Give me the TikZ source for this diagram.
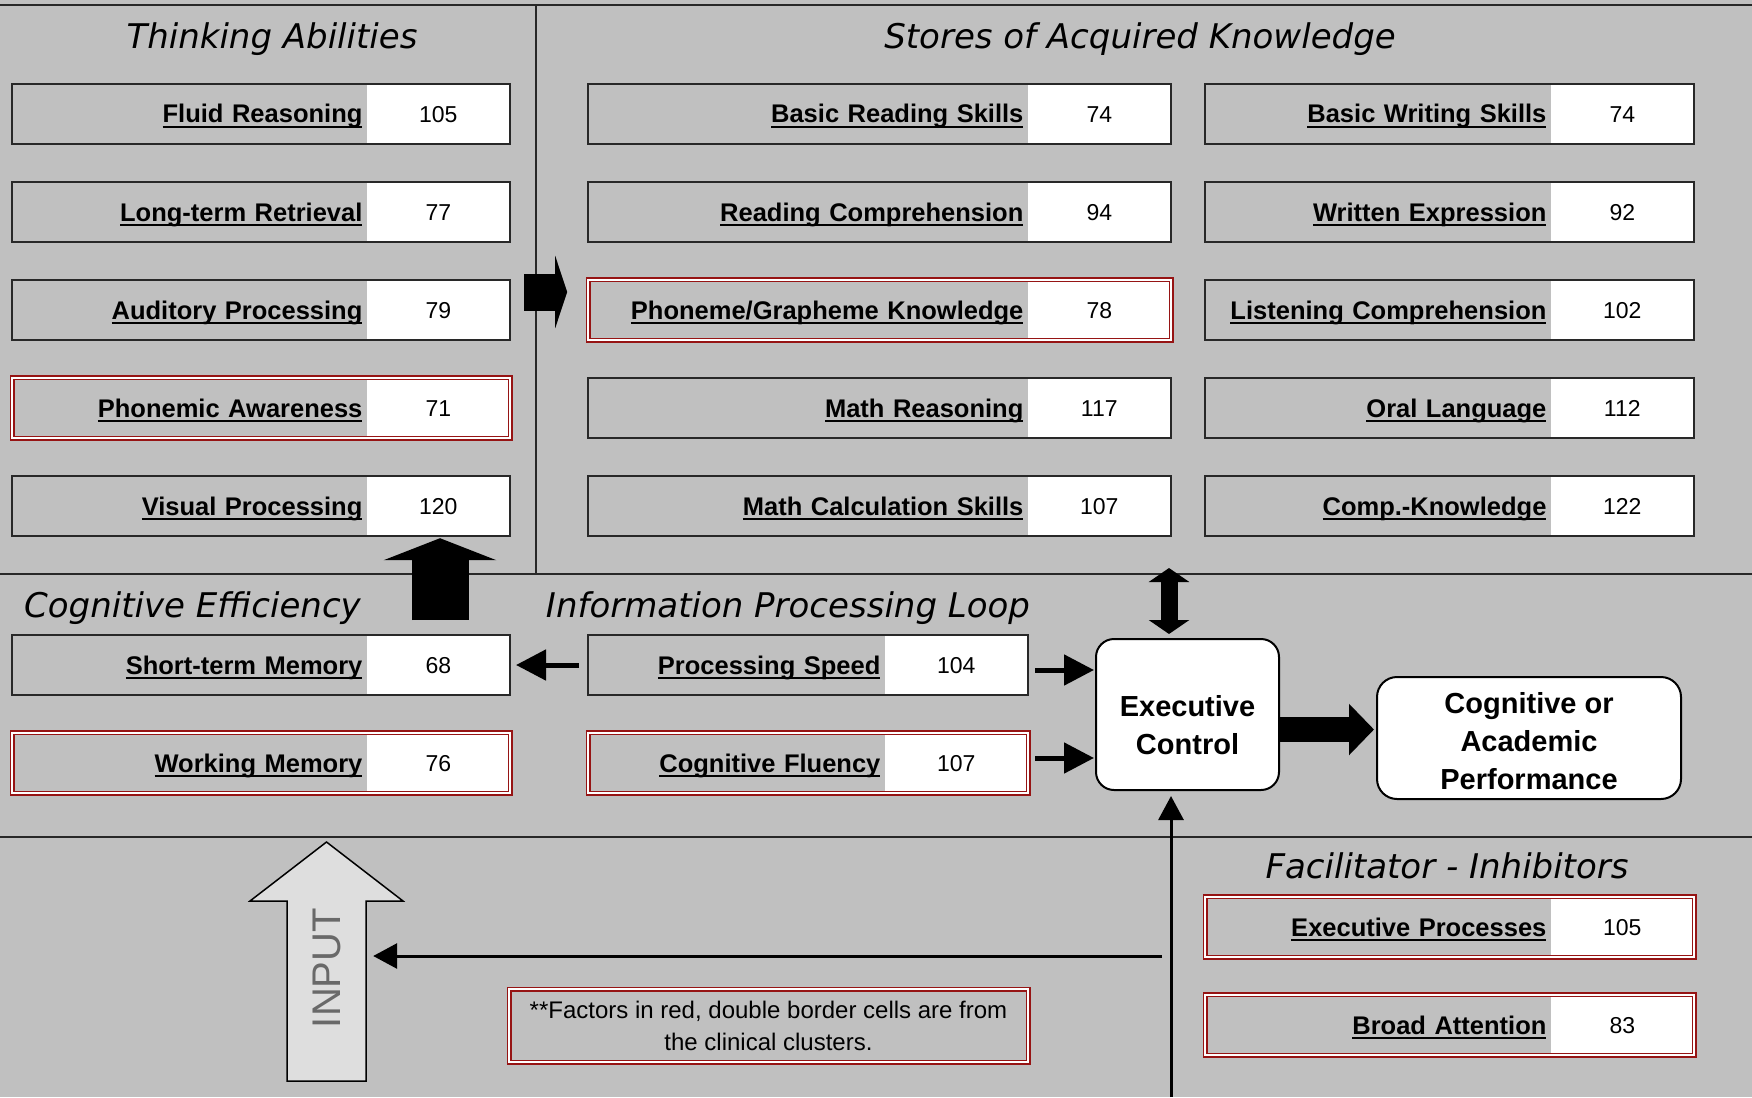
\documentclass[tikz,border=0pt]{standalone}
\usepackage{fontspec}
\setmainfont{Liberation Sans}
\newfontfamily\secfont{DejaVu Sans}
\usepackage{graphicx}
\usepackage{tikz}
\usetikzlibrary{arrows.meta, fit, positioning, calc}

\definecolor{panel}{RGB}{192,192,192}
\definecolor{clinred}{RGB}{150,20,20}
\definecolor{ruleline}{RGB}{40,40,40}
\definecolor{inputfill}{RGB}{222,222,222}
\definecolor{inputtext}{RGB}{105,105,105}

% underlined factor name, line just under the baseline
\newcommand{\scorelabel}[1]{\setbox0\hbox{#1}\rlap{\rule[-5pt]{\wd0}{2pt}}\box0}

\begin{document}
\begin{tikzpicture}[x=1pt, y=-1pt,
    lblcell/.style={minimum height=60pt, inner xsep=4pt, inner ysep=0pt, align=right,
        text height=22pt, text depth=4pt, font=\fontsize{25.5pt}{30pt}\selectfont\bfseries},
    valcell/.style={fill=white, minimum width=143pt, minimum height=60pt, inner sep=0pt,
        text height=20pt, text depth=4pt, font=\fontsize{23pt}{28pt}\selectfont},
    plainframe/.style={draw=ruleline, line width=2pt, inner sep=0pt},
    clinframe/.style={draw=clinred, line width=1.5pt, double=white, double distance=2pt, inner sep=0pt},
    sectitle/.style={anchor=base, inner sep=0pt, font=\fontsize{34pt}{40pt}\selectfont\secfont\itshape},
    ctrlbox/.style={draw=black, line width=2pt, fill=white, rounded corners=18pt, align=center,
        font=\fontsize{29pt}{38pt}\selectfont\bfseries},
    midarrow/.style={line width=5pt, -{Triangle[length=30pt, width=30pt]}},
    thinarrow/.style={line width=3pt, -{Triangle[length=24pt, width=25pt]}},
    panelrule/.style={draw=ruleline, line width=2pt}]

    \useasboundingbox (0,0) rectangle (1752,1097);
    \fill[panel] (0,0) rectangle (1752,1097);

    % Panel borders
    \draw[panelrule] (0,5) -- (1752,5);
    \draw[panelrule] (0,574) -- (1752,574);
    \draw[panelrule] (0,837) -- (1752,837);
    \draw[panelrule] (536,5) -- (536,574);

    % Panel titles
    \node[sectitle] (ta) at (272,49) {Thinking Abilities};
    \node[sectitle] (sak) at (1140,49) {Stores of Acquired Knowledge};
    \node[sectitle, anchor=base west] (ce) at (24,617) {Cognitive Efficiency};
    \node[sectitle] (ipl) at (788,617) {Information Processing Loop};
    \node[sectitle] (fi) at (1447,878) {Facilitator - Inhibitors};

    % Thinking Abilities
    \foreach \nm/\yy/\txt/\val/\frm in {fr/114/Fluid Reasoning/105/plainframe,
        lr/212/Long-term Retrieval/77/plainframe,
        ap/310/Auditory Processing/79/plainframe,
        pa/408/Phonemic Awareness/71/clinframe,
        vp/506/Visual Processing/120/plainframe}{
        \node[valcell, anchor=east] (\nm-v) at (510,\yy) {\val};
        \node[lblcell, text width=346pt, anchor=east] (\nm) at (\nm-v.west) {\scorelabel{\txt}};
        \node[\frm, fit=(\nm)(\nm-v)] (\nm-f) {};
    }

    % Stores of Acquired Knowledge, reading and math
    \foreach \nm/\yy/\txt/\val/\frm in {brs/114/Basic Reading Skills/74/plainframe,
        rc/212/Reading Comprehension/94/plainframe,
        pg/310/{Phoneme/Grapheme Knowledge}/78/clinframe,
        mr/408/Math Reasoning/117/plainframe,
        mcs/506/Math Calculation Skills/107/plainframe}{
        \node[valcell, anchor=east] (\nm-v) at (1171,\yy) {\val};
        \node[lblcell, text width=431pt, anchor=east] (\nm) at (\nm-v.west) {\scorelabel{\txt}};
        \node[\frm, fit=(\nm)(\nm-v)] (\nm-f) {};
    }

    % Stores of Acquired Knowledge, writing and language
    \foreach \nm/\yy/\txt/\val/\frm in {bws/114/Basic Writing Skills/74/plainframe,
        we/212/Written Expression/92/plainframe,
        lc/310/Listening Comprehension/102/plainframe,
        ol/408/Oral Language/112/plainframe,
        ck/506/Comp.-Knowledge/122/plainframe}{
        \node[valcell, anchor=east] (\nm-v) at (1694,\yy) {\val};
        \node[lblcell, text width=337pt, anchor=east] (\nm) at (\nm-v.west) {\scorelabel{\txt}};
        \node[\frm, fit=(\nm)(\nm-v)] (\nm-f) {};
    }

    % Cognitive Efficiency
    \foreach \nm/\yy/\txt/\val/\frm in {stm/665/Short-term Memory/68/plainframe,
        wm/763/Working Memory/76/clinframe}{
        \node[valcell, anchor=east] (\nm-v) at (510,\yy) {\val};
        \node[lblcell, text width=346pt, anchor=east] (\nm) at (\nm-v.west) {\scorelabel{\txt}};
        \node[\frm, fit=(\nm)(\nm-v)] (\nm-f) {};
    }

    % Information Processing Loop
    \foreach \nm/\yy/\txt/\val/\frm in {ps/665/Processing Speed/104/plainframe,
        cf/763/Cognitive Fluency/107/clinframe}{
        \node[valcell, anchor=east] (\nm-v) at (1028,\yy) {\val};
        \node[lblcell, text width=288pt, anchor=east] (\nm) at (\nm-v.west) {\scorelabel{\txt}};
        \node[\frm, fit=(\nm)(\nm-v)] (\nm-f) {};
    }

    % Facilitator - Inhibitors
    \foreach \nm/\yy/\txt/\val/\frm in {ep/927/Executive Processes/105/clinframe,
        ba/1025/Broad Attention/83/clinframe}{
        \node[valcell, anchor=east] (\nm-v) at (1694,\yy) {\val};
        \node[lblcell, text width=337pt, anchor=east] (\nm) at (\nm-v.west) {\scorelabel{\txt}};
        \node[\frm, fit=(\nm)(\nm-v)] (\nm-f) {};
    }

    % Executive control and outcome
    \node[ctrlbox, minimum width=183pt, minimum height=151pt] (exec) at (1187.5,714.5)
        {\rule{0pt}{43pt}Executive\\Control};
    \node[ctrlbox, rounded corners=20pt, minimum width=304pt, minimum height=122pt] (perf) at (1529,738)
        {\rule{0pt}{27pt}Cognitive or\\Academic\\Performance};

    % Note on the clinical clusters
    \node[clinframe, minimum width=519pt, minimum height=73pt, align=center,
        font=\fontsize{24pt}{32pt}\selectfont] (note) at (768.5,1025.5)
        {**Factors in red, double border cells are from\\the clinical clusters.};

    % INPUT arrow
    \filldraw[draw=black, line width=1.5pt, fill=inputfill] (287,1081) -- (287,901) -- (250,901)
        -- (326.5,842) -- (403,901) -- (366,901) -- (366,1081) -- cycle;
    \node[minimum width=79pt, inner sep=0pt, text=inputtext, font=\fontsize{40pt}{40pt}\selectfont]
        (input) at (326.5,968) {\rotatebox{90}{INPUT}};

    % Arrows
    \coordinate (push) at (440,620);
    \coordinate (link) at (524,292);
    \coordinate (recall) at (1169,568);
    \coordinate (base) at (1171,1097);
    \coordinate (fork) at (1171,956);

    \draw[line width=57pt, -{Triangle[length=22pt, width=112pt]}, shorten >=2pt] (push) -- (push |- vp-v.south);
    \draw[line width=37pt, -{Triangle[length=12pt, width=72pt]}, shorten >=21pt] (link) -- (link -| pg.west);
    \draw[midarrow, shorten <=9pt, shorten >=6pt] (ps.west) -- (stm-v.east);
    \draw[midarrow, shorten <=7pt, shorten >=1pt] ([yshift=-5pt]ps-v.east) -- ([yshift=-5pt]ps-v.east -| exec.west);
    \draw[midarrow, shorten <=7pt, shorten >=1pt] ([yshift=5pt]cf-v.east) -- ([yshift=5pt]cf-v.east -| exec.west);
    \draw[line width=17pt, {Triangle[length=14pt, width=40pt]}-{Triangle[length=14pt, width=40pt]}, shorten >=4pt]
        (recall) -- (recall |- exec.north);
    \draw[line width=25pt, -{Triangle[length=25pt, width=50pt]}, shorten >=2pt]
        ([yshift=-15pt]exec.east) -- ([yshift=-15pt]exec.east -| perf.west);
    \draw[thinarrow, shorten >=5pt] (base) -- (base |- exec.south);
    \draw[thinarrow, shorten <=9pt, shorten >=7pt] (fork) -- (fork -| input.east);
\end{tikzpicture}
\end{document}
